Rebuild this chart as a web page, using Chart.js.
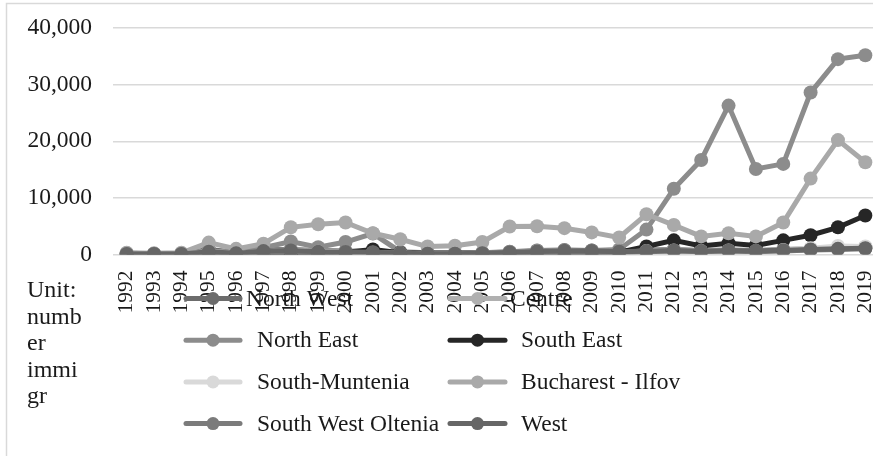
<!DOCTYPE html>
<html>
<head>
<meta charset="utf-8">
<script src="https://cdn.jsdelivr.net/npm/chart.js@4.4.1/dist/chart.umd.min.js"></script>
<style>
  html, body { margin: 0; padding: 0; background: #fff; overflow: hidden; }
  #wrap { position: relative; width: 890px; height: 456px; }
</style>
</head>
<body>
<div id="wrap"><canvas id="c" width="890" height="456"></canvas></div>
<script>
// Immigrants by development region, 1992-2019
const years = ['1992','1993','1994','1995','1996','1997','1998','1999','2000','2001',
  '2002','2003','2004','2005','2006','2007','2008','2009','2010','2011',
  '2012','2013','2014','2015','2016','2017','2018','2019'];

const northWest        = [200,150,150,900,400,900,900,700,600,500,300,250,250,300,500,700,800,700,600,800,900,700,800,700,900,1000,1200,1300];
const centre           = [150,100,100,600,300,700,800,600,500,400,250,200,200,250,400,600,700,600,500,700,800,600,700,600,800,900,1000,1100];
const northEast        = [100,100,100,500,300,1200,2300,1300,2200,3700,500,300,300,300,400,600,700,700,900,4400,11600,16700,26300,15100,16000,28600,34500,35200];
const southEast        = [100,100,100,200,200,300,300,300,400,900,300,200,200,200,300,400,400,400,400,1400,2500,1500,2000,1600,2500,3400,4800,6900];
const southMuntenia    = [100,100,100,400,200,500,600,500,400,300,200,150,150,200,300,500,600,500,400,600,700,600,700,600,800,1100,1500,1400];
const bucharestIlfov   = [300,200,300,2100,1000,1900,4800,5350,5650,3750,2700,1400,1550,2200,4950,5000,4650,3900,3000,7100,5200,3200,3750,3200,5650,13400,20200,16300];
const southWestOltenia = [50,50,50,300,150,400,500,400,300,250,150,100,100,150,250,400,500,400,350,500,600,500,600,500,600,800,900,1000];
const west             = [100,100,100,500,200,600,700,500,450,400,200,150,150,200,350,550,650,600,500,600,700,600,700,650,750,900,1000,1100];

const regionNames  = ['North West','Centre','North East','South East','South-Muntenia','Bucharest - Ilfov','South West Oltenia','West'];
const regionValues = [northWest, centre, northEast, southEast, southMuntenia, bucharestIlfov, southWestOltenia, west];
const regionColors = ['#6c6c6c','#b0b0b0','#8c8c8c','#262626','#d9d9d9','#a9a9a9','#7b7b7b','#666666'];

const yTickValues = [0, 10000, 20000, 30000, 40000];
const unitLines = ['Unit:', 'numb', 'er', 'immi', 'gr'];

const SERIF = '"Liberation Serif", "Times New Roman", serif';
const TEXT = '#1a1a1a';

// Outer frame of the chart box
const frame = {
  id: 'frame',
  beforeDraw(chart) {
    const ctx = chart.ctx;
    ctx.save();
    ctx.fillStyle = '#ffffff';
    ctx.fillRect(0, 0, chart.width, chart.height);
    ctx.strokeStyle = '#d9d9d9';
    ctx.lineWidth = 1.5;
    ctx.strokeRect(6.5, 3.5, chart.width + 20, chart.height + 20);
    ctx.restore();
  }
};

// Unit caption and two-column legend under the plot
const bottomLegend = {
  id: 'bottomLegend',
  afterDraw(chart) {
    const ctx = chart.ctx;
    ctx.save();
    ctx.fillStyle = TEXT;
    ctx.font = '24px ' + SERIF;
    ctx.textAlign = 'left';
    ctx.textBaseline = 'alphabetic';
    unitLines.forEach((t, i) => ctx.fillText(t, 27, 297 + i * 26.6));

    const cols = [{ x0: 186, x1: 240, tx: 257 }, { x0: 450, x1: 505, tx: 521 }];
    ctx.font = '23.5px ' + SERIF;
    ctx.textBaseline = 'middle';
    chart.data.datasets.forEach((ds, i) => {
      const col = cols[i % 2];
      const row = Math.floor(i / 2);
      const y = 298.5 + row * 41.7;
      ctx.strokeStyle = ds.borderColor;
      ctx.lineWidth = 5;
      ctx.lineCap = 'round';
      ctx.beginPath();
      ctx.moveTo(col.x0, y);
      ctx.lineTo(col.x1, y);
      ctx.stroke();
      ctx.fillStyle = ds.borderColor;
      ctx.beginPath();
      ctx.arc((col.x0 + col.x1) / 2, y, 6.5, 0, Math.PI * 2);
      ctx.fill();
      ctx.fillStyle = TEXT;
      ctx.fillText(ds.label, col.tx - (row === 0 ? 11 : 0), y + 1);
    });
    ctx.restore();
  }
};

const datasets = regionNames.map((name, i) => ({
  label: name,
  data: regionValues[i],
  borderColor: regionColors[i],
  backgroundColor: regionColors[i],
  pointBackgroundColor: regionColors[i],
  pointBorderColor: regionColors[i],
  borderWidth: 5,
  pointRadius: 7,
  pointBorderWidth: 0,
  tension: 0,
  fill: false,
  order: regionNames.length - 1 - i
}));

new Chart(document.getElementById('c'), {
  type: 'line',
  data: { labels: years, datasets },
  options: {
    responsive: false,
    animation: false,
    events: [],
    layout: { padding: { left: 0, top: 28, right: 11, bottom: 141.5 } },
    plugins: {
      legend: { display: false },
      tooltip: { enabled: false }
    },
    scales: {
      x: {
        offset: true,
        grid: { display: false, drawTicks: false },
        border: { display: false },
        ticks: {
          autoSkip: false,
          minRotation: 90,
          maxRotation: 90,
          padding: 16,
          color: TEXT,
          font: { family: SERIF, size: 21.5 }
        },
        afterFit(scale) {
          scale.height = 60;
          scale.paddingLeft = 0;
          scale.paddingRight = 0;
        }
      },
      y: {
        min: 0,
        max: 40000,
        afterBuildTicks(scale) { scale.ticks = yTickValues.map(v => ({ value: v })); },
        grid: { color: '#d9d9d9', lineWidth: 1.5, drawTicks: false },
        border: { display: false },
        ticks: {
          padding: 21,
          color: TEXT,
          font: { family: SERIF, size: 23.5 },
          callback: v => Number(v).toLocaleString('en-US')
        },
        afterFit(scale) {
          scale.width = 113;
          scale.paddingTop = 0;
          scale.paddingBottom = 0;
        }
      }
    }
  },
  plugins: [frame, bottomLegend]
});
</script>
</body>
</html>
